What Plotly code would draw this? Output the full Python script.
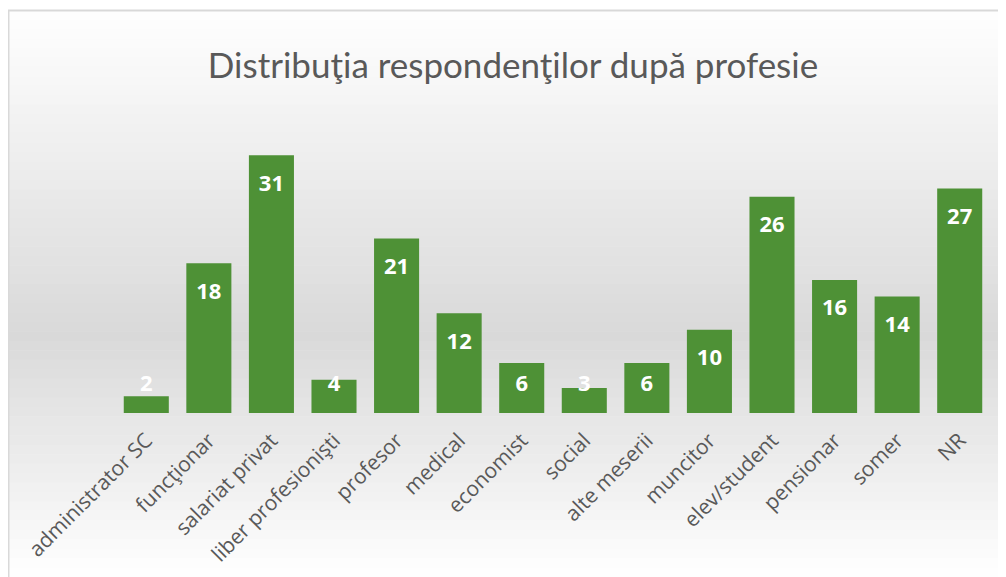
import plotly.graph_objects as go

categories = ["administrator SC", "funcţionar", "salariat privat", "liber profesionişti",
              "profesor", "medical", "economist", "social", "alte meserii", "muncitor",
              "elev/student", "pensionar", "somer", "NR"]
values = [2, 18, 31, 4, 21, 12, 6, 3, 6, 10, 26, 16, 14, 27]
title_text = "Distribuţia respondenţilor după profesie"

PAGE_W, PAGE_H = 1006, 577
OFF = 8  # browser body margin
W, H = PAGE_W - OFF, PAGE_H - OFF
# plot area in page pixels: x 115..991, y 122..413
ML, MR, MT, MB = 115 - OFF, PAGE_W - 991, 122 - OFF, PAGE_H - 413
Y_MAX = 35
plot_h = H - MT - MB
px_per_unit = plot_h / Y_MAX

# label positions: inside top of bar, clamped near baseline for short bars
INSET_PX = 30
MIN_CENTER_PX = 28
label_y = [max(v - INSET_PX / px_per_unit, MIN_CENTER_PX / px_per_unit) for v in values]

def px_x(px):  # page px -> paper
    return (px - OFF - ML) / (W - ML - MR)

def px_y(py):
    return (H - MB - (py - OFF)) / plot_h

fig = go.Figure()
fig.add_trace(go.Bar(
    x=categories, y=values,
    marker=dict(color="#4e9136", line=dict(width=0)),
    hoverinfo="x+y",
))
fig.add_trace(go.Scatter(
    x=categories, y=label_y, mode="text",
    text=[str(v) for v in values],
    textfont=dict(family="Open Sans", size=22, color="white", weight="bold"),
    hoverinfo="skip",
))

# background gradient bands (white -> gray -> white)
shapes = []
top, mid, bot = 10, 335, 577
steps = 60
def gray_at(py):
    if py <= mid:
        t = (py - top) / (mid - top)
    else:
        t = (bot - py) / (bot - mid)
    t = max(0.0, min(1.0, t))
    g = round(255 - (255 - 217) * t)
    return f"rgb({g},{g},{g})"
edges = [top + (bot - top) * i / steps for i in range(steps + 1)]
for i in range(steps):
    y0, y1 = edges[i], edges[i + 1]
    shapes.append(dict(type="rect", xref="paper", yref="paper",
                       x0=px_x(8), x1=px_x(PAGE_W + 5), y0=px_y(y1 + 0.5), y1=px_y(y0),
                       fillcolor=gray_at((y0 + y1) / 2), line=dict(width=0), layer="below"))
# border (top and left)
shapes.append(dict(type="line", xref="paper", yref="paper",
                   x0=px_x(8), x1=px_x(PAGE_W + 5), y0=px_y(10.5), y1=px_y(10.5),
                   line=dict(color="#d9d9d9", width=2), layer="above"))
shapes.append(dict(type="line", xref="paper", yref="paper",
                   x0=px_x(8.5), x1=px_x(8.5), y0=px_y(PAGE_H + 5), y1=px_y(10),
                   line=dict(color="#d9d9d9", width=2), layer="above"))

fig.update_layout(
    width=W, height=H,
    margin=dict(l=ML, r=MR, t=MT, b=MB, autoexpand=False),
    paper_bgcolor="white", plot_bgcolor="rgba(0,0,0,0)",
    showlegend=False,
    bargap=0.28,
    shapes=shapes,
    title=dict(text=title_text, x=(513 - OFF) / W, xref="container", xanchor="center",
               y=1 - (66 - OFF) / H, yanchor="middle",
               font=dict(family="Lato", size=35, color="#595959")),
    xaxis=dict(tickangle=-45, tickfont=dict(family="Open Sans", size=21, color="#595959"),
               showline=False, showgrid=False, zeroline=False, ticks="",
               ticklabelstandoff=10, automargin=False),
    yaxis=dict(range=[0, Y_MAX], visible=False, showgrid=False, zeroline=False),
)
fig.update_xaxes(range=[-0.5, len(categories) - 0.5])

fig.write_html("out.html")
